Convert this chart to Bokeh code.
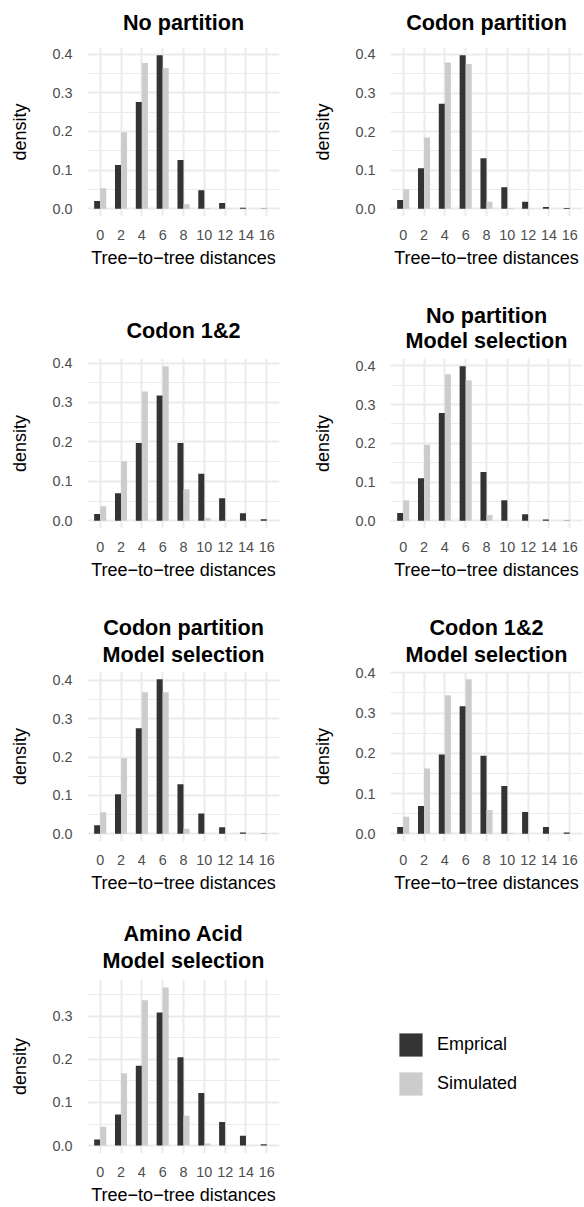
from bokeh.plotting import figure
from bokeh.layouts import column, row
from bokeh.models import (ColumnDataSource, Title, FixedTicker, SingleIntervalTicker,
                          PrintfTickFormatter, Range1d, Legend, LegendItem)
from bokeh.transform import dodge
from bokeh.embed import file_html
from bokeh.resources import INLINE

# ---------------- data ----------------
distances = [0, 2, 4, 6, 8, 10, 12, 14, 16]
x_tick_labels = ["0", "2", "4", "6", "8", "10", "12", "14", "16"]
series_names = ["Emprical", "Simulated"]

no_partition_emp = [0.020, 0.113, 0.276, 0.397, 0.126, 0.048, 0.015, 0.003, 0.001]
no_partition_sim = [0.053, 0.198, 0.377, 0.364, 0.012, 0.002, 0.0005, 0.0, 0.0]

codon_partition_emp = [0.023, 0.105, 0.272, 0.398, 0.131, 0.056, 0.018, 0.005, 0.002]
codon_partition_sim = [0.051, 0.185, 0.379, 0.375, 0.018, 0.002, 0.001, 0.0, 0.0]

codon12_emp = [0.017, 0.070, 0.197, 0.318, 0.197, 0.119, 0.057, 0.019, 0.004]
codon12_sim = [0.037, 0.151, 0.328, 0.392, 0.080, 0.007, 0.001, 0.0, 0.0]

no_partition_ms_emp = [0.020, 0.110, 0.278, 0.399, 0.126, 0.053, 0.017, 0.003, 0.001]
no_partition_ms_sim = [0.053, 0.196, 0.378, 0.363, 0.015, 0.001, 0.0, 0.0, 0.0]

codon_partition_ms_emp = [0.022, 0.103, 0.275, 0.403, 0.129, 0.053, 0.017, 0.003, 0.001]
codon_partition_ms_sim = [0.056, 0.197, 0.369, 0.369, 0.013, 0.001, 0.0, 0.0, 0.0]

codon12_ms_emp = [0.017, 0.069, 0.197, 0.317, 0.194, 0.119, 0.054, 0.017, 0.003]
codon12_ms_sim = [0.042, 0.162, 0.344, 0.384, 0.059, 0.002, 0.0, 0.0, 0.0]

amino_ms_emp = [0.014, 0.072, 0.185, 0.309, 0.205, 0.122, 0.055, 0.023, 0.003]
amino_ms_sim = [0.044, 0.168, 0.337, 0.367, 0.069, 0.005, 0.001, 0.0, 0.0]

panel_titles = [
    ["No partition"],
    ["Codon partition"],
    ["Codon 1&2"],
    ["No partition", "Model selection"],
    ["Codon partition", "Model selection"],
    ["Codon 1&2", "Model selection"],
    ["Amino Acid", "Model selection"],
]
panel_emp = [no_partition_emp, codon_partition_emp, codon12_emp, no_partition_ms_emp,
             codon_partition_ms_emp, codon12_ms_emp, amino_ms_emp]
panel_sim = [no_partition_sim, codon_partition_sim, codon12_sim, no_partition_ms_sim,
             codon_partition_ms_sim, codon12_ms_sim, amino_ms_sim]

# ---------------- style ----------------
FONT = "Liberation Sans"
EMP_COLOR = "#333333"
SIM_COLOR = "#CCCCCC"
GRID = "#EBEBEB"
TICK_COLOR = "#4D4D4D"
FIG_W = 292
FRAME_W = 192
BAR_W = 0.58
X_LO, X_HI = -1.22, 17.22

# (figure height, top border, frame height) per row
row_specs = [(301, 46, 170), (302, 57, 170), (302, 68, 170), (302, 74, 175)]
# wanted baseline distance above the frame top
single_base = [23.3, 19.7, 19.7, 19.7]
double_base = [(34.7, 9.7), (34.7, 9.7), (35.5, 9.5), (37.0, 11.5)]
TH = 24.0   # estimated title text box height
TD = 4.5    # estimated descent


def mk_title(text, standoff, valign="bottom"):
    return Title(text=text, standoff=standoff, align="center", vertical_align=valign,
                 text_font=FONT, text_font_size="21.6px", text_font_style="bold",
                 text_color="black")


def make_panel(idx):
    r, c = divmod(idx, 2)
    fig_h, top, frame_h = row_specs[r]
    left = 87 if c == 0 else 98
    right = FIG_W - left - FRAME_W
    emp = panel_emp[idx]
    sim = panel_sim[idx]
    ymax = max(emp + sim)
    lines = panel_titles[idx]

    # p.title is stacked farthest from the frame; added titles sit next to the frame
    inner = None
    if len(lines) == 1:
        s = 2 * (single_base[r] - TD)
        room = top - 2 - TH - 0.5
        if s > room:
            outer = mk_title(lines[0], room, valign="top")
        else:
            outer = mk_title(lines[0], s)
    else:
        b_out, b_in = double_base[r]
        s_in = 2 * (b_in - TD)
        box_in = 2 + TH + s_in
        s_out = 2 * (b_out - box_in - TD)
        inner = mk_title(lines[1], s_in)
        outer = mk_title(lines[0], s_out)

    p = figure(width=FIG_W, height=fig_h, output_backend="svg", toolbar_location=None,
               x_range=Range1d(X_LO, X_HI),
               y_range=Range1d(-0.05 * ymax, 1.05 * ymax),
               min_border_left=left, min_border_right=right,
               min_border_top=top, min_border_bottom=fig_h - top - frame_h,
               title=outer)
    if inner is not None:
        p.add_layout(inner, "above")
    p.outline_line_color = None
    p.background_fill_color = "white"
    p.border_fill_color = "white"

    src = ColumnDataSource(dict(x=distances, emp=emp, sim=sim))
    p.vbar(x=dodge("x", -BAR_W / 2, range=p.x_range), top="emp", bottom=0, width=BAR_W,
           source=src, fill_color=EMP_COLOR, line_color=None)
    p.vbar(x=dodge("x", BAR_W / 2, range=p.x_range), top="sim", bottom=0, width=BAR_W,
           source=src, fill_color=SIM_COLOR, line_color=None)

    # axes
    xa = p.below[0]
    ya = p.left[0]
    xa.ticker = FixedTicker(ticks=distances)
    xa.major_label_overrides = {d: l for d, l in zip(distances, x_tick_labels)}
    ya.ticker = SingleIntervalTicker(interval=0.1, num_minor_ticks=2)
    ya.formatter = PrintfTickFormatter(format="%.1f")
    xa.axis_label = "Tree\u2212to\u2212tree distances"
    ya.axis_label = "density"
    for ax in (xa, ya):
        ax.axis_line_color = None
        ax.major_tick_line_color = None
        ax.minor_tick_line_color = None
        ax.major_tick_out = 0
        ax.major_tick_in = 0
        ax.minor_tick_out = 0
        ax.minor_tick_in = 0
        ax.major_label_text_font = FONT
        ax.major_label_text_font_size = "14.4px"
        ax.major_label_text_color = TICK_COLOR
        ax.axis_label_text_font = FONT
        ax.axis_label_text_font_size = "18px"
        ax.axis_label_text_font_style = "normal"
        ax.axis_label_text_color = "black"
    xa.major_label_standoff = 13
    xa.axis_label_standoff = 5
    ya.major_label_standoff = 15
    ya.axis_label_standoff = 19

    # grid
    p.xgrid.grid_line_color = GRID
    p.xgrid.grid_line_width = 2
    p.ygrid.grid_line_color = GRID
    p.ygrid.grid_line_width = 2
    p.ygrid.minor_grid_line_color = GRID
    p.ygrid.minor_grid_line_width = 1.1
    return p


panels = [make_panel(i) for i in range(7)]

# legend cell (swatch renderers sit outside the visible range)
lg = figure(width=FIG_W, height=302, output_backend="svg", toolbar_location=None,
            x_axis_type=None, y_axis_type=None, min_border=0,
            x_range=Range1d(0, 1), y_range=Range1d(0, 1))
lg.title.text = ""
lg.outline_line_color = None
lg.xgrid.visible = False
lg.ygrid.visible = False
r_emp = lg.vbar(x=[-5], top=[-5], bottom=-6, width=0.1, fill_color=EMP_COLOR, line_color=None)
r_sim = lg.vbar(x=[-5], top=[-5], bottom=-6, width=0.1, fill_color=SIM_COLOR, line_color=None)
legend = Legend(items=[LegendItem(label=series_names[0], renderers=[r_emp]),
                       LegendItem(label=series_names[1], renderers=[r_sim])],
                location=(104, 55), padding=0, margin=0, spacing=10,
                glyph_width=29, glyph_height=29, label_height=29, label_standoff=12,
                label_text_font=FONT, label_text_font_size="18px", label_text_color="black",
                border_line_color=None, background_fill_alpha=0)
lg.add_layout(legend)

layout = column(row(panels[0], panels[1]), row(panels[2], panels[3]),
                row(panels[4], panels[5]), row(panels[6], lg))

open("out.html", "w").write(file_html(layout, INLINE))
